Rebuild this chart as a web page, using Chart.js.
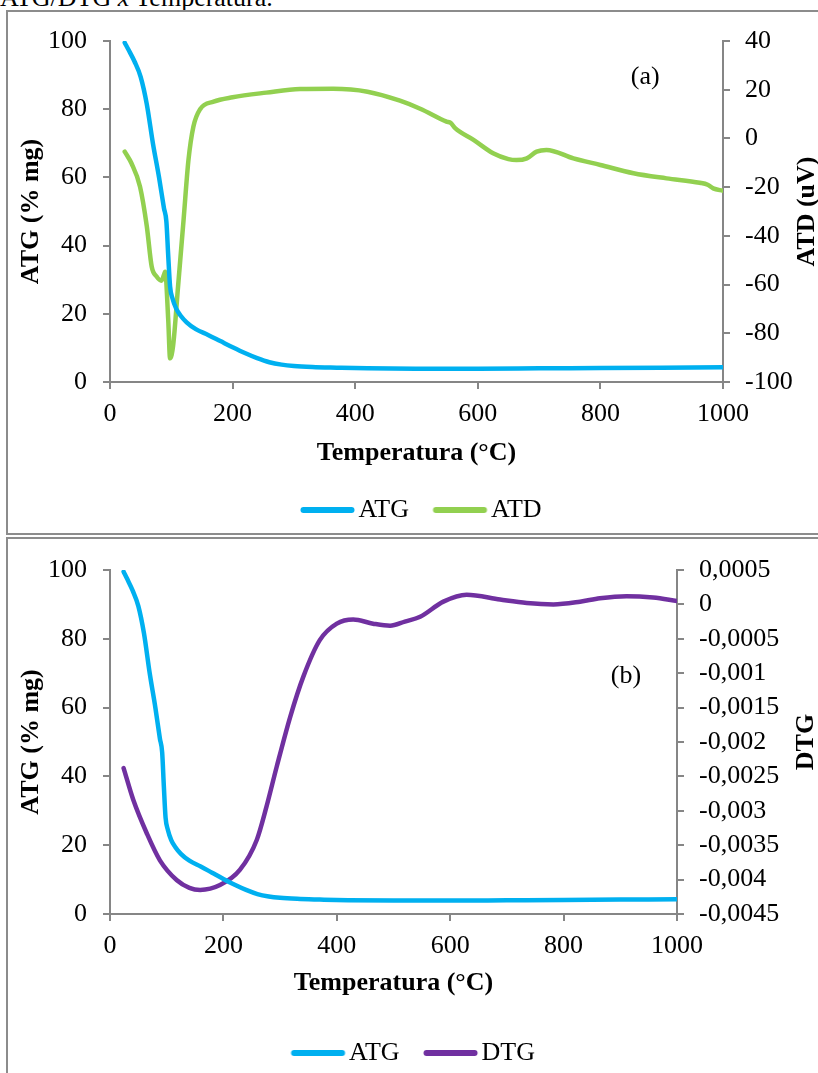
<!DOCTYPE html>
<html>
<head>
<meta charset="utf-8">
<script src="https://cdn.jsdelivr.net/npm/chart.js@4.4.1/dist/chart.umd.min.js"></script>
<style>
  html, body { margin: 0; padding: 0; background: #fff; }
  body { width: 818px; height: 1073px; overflow: hidden; position: relative; }
  .caption {
    position: absolute; left: 0; top: -15px;
    font: 26px/26px "Liberation Serif", "Times New Roman", serif; color: #000; white-space: nowrap;
  }
  .frame { position: absolute; left: 6px; width: 900px; border: 2px solid #8c8c8c; box-sizing: border-box; }
  #frameA { top: 10px; height: 525px; }
  #frameB { top: 537px; height: 600px; }
  canvas { position: absolute; left: 8px; }
  #chartA { top: 12px; }
  #chartB { top: 539px; }
</style>
</head>
<body>
<div class="caption">ATG/DTG <i>x</i> Temperatura.</div>
<div class="frame" id="frameA"></div>
<div class="frame" id="frameB"></div>
<canvas id="chartA" width="826" height="521"></canvas>
<canvas id="chartB" width="810" height="537"></canvas>
<script>
const FONT = '"Liberation Serif", "Times New Roman", serif';
const AXIS_GRAY = "#868686";

// temperature axis ticks
const tempTicks = [0, 200, 400, 600, 800, 1000];

// ATG (% mg), shared by both panels
const atgTemp = [24, 30, 40, 50, 60, 70, 80, 88, 92, 95, 98, 102, 108, 115, 125, 140, 160, 180, 200, 220, 240, 260, 280, 300, 330, 370, 420, 500, 600, 700, 800, 900, 1000];
const atgValues = [99.5, 97.5, 94, 89.5, 81.5, 70, 60, 51, 47, 37, 28, 24.5, 21.5, 19.5, 17.5, 15.5, 13.8, 12, 10.2, 8.5, 7, 5.8, 5.1, 4.7, 4.4, 4.2, 4.0, 3.9, 3.9, 4.0, 4.1, 4.2, 4.3];

// ATD (uV), panel (a)
const atdTemp = [24, 35, 49, 60, 68, 76, 84, 88, 90, 95, 98, 103, 111, 120, 128, 136, 147, 169, 200, 255, 310, 364, 420, 473, 506, 549, 556, 563, 593, 625, 650, 663, 680, 696, 712, 756, 800, 854, 908, 962, 975, 984, 1000];
const atdValues = [-5.4, -10.2, -19.8, -36, -52.6, -56.7, -58.4, -56, -54.7, -74.5, -90.3, -85, -60.9, -33.5, -8.9, 4.8, 12, 15.1, 16.9, 18.8, 20.3, 20.4, 19.2, 15.5, 12.2, 6.9, 6.3, 4.2, -0.6, -6.1, -8.5, -8.9, -8.2, -5.4, -4.7, -8.2, -10.9, -14.3, -16.4, -18.2, -19, -20.5, -21.5];

// DTG, panel (b)
const dtgTemp = [24, 41, 65, 88, 118, 140, 159, 194, 229, 259, 276, 294, 318, 341, 370, 400, 429, 464, 494, 520, 547, 588, 629, 688, 735, 782, 829, 864, 911, 958, 1000];
const dtgValues = [-0.00238, -0.00284, -0.00333, -0.00372, -0.00401, -0.00412, -0.00415, -0.00408, -0.00386, -0.00342, -0.00294, -0.00236, -0.00163, -0.00105, -0.00052, -0.00028, -0.00022, -0.00028, -0.00031, -0.00025, -0.00018, 0.00004, 0.00014, 0.00007, 0.00002, 0, 0.00004, 0.00009, 0.00012, 0.0001, 0.00005];

// axis ranges
const atgRange = { min: 0, max: 100, step: 20 };
const atdRange = { min: -100, max: 40, step: 20 };
const dtgRange = { min: -0.0045, max: 0.0005, step: 0.0005 };

// panel tags, in data units (temperature, ATG)
const tagA = { text: "(a)", at: [873, 89.4] };
const tagB = { text: "(b)", at: [910, 69.2] };

function toPoints(xs, ys) {
  return xs.map((x, i) => ({ x, y: ys[i] }));
}

function formatComma(value) {
  let s = Number(value).toFixed(4).replace(/0+$/, "").replace(/\.$/, "");
  if (s === "-0") s = "0";
  return s.replace(".", ",");
}

// legend swatch: a short thick line that sits close to its label
function legendSwatch(color) {
  const c = document.createElement("canvas");
  c.width = 110;
  c.height = 10;
  const g = c.getContext("2d");
  g.strokeStyle = color;
  g.lineWidth = 6;
  g.lineCap = "round";
  g.beginPath();
  g.moveTo(35.5, 5);
  g.lineTo(83.5, 5);
  g.stroke();
  return c;
}

function lineDataset(label, xs, ys, color, axis) {
  return {
    label,
    data: toPoints(xs, ys),
    yAxisID: axis,
    borderColor: color,
    backgroundColor: color,
    borderWidth: 4.5,
    borderCapStyle: "round",
    borderJoinStyle: "round",
    pointRadius: 0,
    pointStyle: legendSwatch(color),
    cubicInterpolationMode: "monotone",
    fill: false
  };
}

function axisGrid() {
  return { display: true, drawOnChartArea: false, drawTicks: true, tickLength: 7, color: AXIS_GRAY, lineWidth: 2 };
}

// right-hand title (reads bottom to top) and the panel tag
const panelText = {
  id: "panelText",
  afterDraw(chart, args, opts) {
    const { ctx, chartArea, scales } = chart;
    ctx.save();
    ctx.fillStyle = "#000";
    ctx.textAlign = "center";
    ctx.textBaseline = "middle";
    ctx.font = `bold 26px ${FONT}`;
    ctx.translate(scales.y1.left + opts.titleOffset, (chartArea.top + chartArea.bottom) / 2);
    ctx.rotate(-Math.PI / 2);
    ctx.fillText(opts.title, 0, 0);
    ctx.restore();

    ctx.save();
    ctx.fillStyle = "#000";
    ctx.textAlign = "center";
    ctx.textBaseline = "middle";
    ctx.font = `26px ${FONT}`;
    ctx.fillText(opts.tag.text, scales.x.getPixelForValue(opts.tag.at[0]), scales.y.getPixelForValue(opts.tag.at[1]));
    ctx.restore();
  }
};

function buildChart(canvas, cfg) {
  return new Chart(canvas, {
    type: "line",
    data: {
      datasets: [
        lineDataset("ATG", atgTemp, atgValues, "#00B0F0", "y"),
        lineDataset(cfg.name, cfg.temps, cfg.values, cfg.color, "y1")
      ]
    },
    options: {
      responsive: false,
      animation: false,
      events: [],
      layout: { padding: { top: cfg.padTop, left: 0, right: 0, bottom: 0 } },
      plugins: {
        tooltip: { enabled: false },
        legend: {
          position: "bottom",
          labels: {
            usePointStyle: true,
            pointStyleWidth: 45,
            padding: 24,
            color: "#000",
            font: { family: FONT, size: 26 }
          }
        },
        panelText: { title: cfg.rightTitle, titleOffset: cfg.titleOffset, tag: cfg.tag }
      },
      scales: {
        x: {
          type: "linear",
          min: 0,
          max: 1000,
          afterBuildTicks: s => { s.ticks = tempTicks.map(v => ({ value: v })); },
          afterFit: s => { s.height = cfg.xHeight; },
          grid: axisGrid(),
          border: { display: true, color: AXIS_GRAY, width: 2 },
          ticks: {
            autoSkip: false,
            maxRotation: 0,
            padding: 12,
            color: "#000",
            font: { family: FONT, size: 26, lineHeight: 1 },
            callback: v => String(v)
          },
          title: {
            display: true,
            text: "Temperatura (°C)",
            color: "#000",
            font: { family: FONT, size: 26, weight: "bold", lineHeight: 1 },
            padding: { top: 0, bottom: cfg.xTitlePad }
          }
        },
        y: {
          position: "left",
          min: atgRange.min,
          max: atgRange.max,
          afterFit: s => { s.width = 102; },
          grid: axisGrid(),
          border: { display: true, color: AXIS_GRAY, width: 2 },
          ticks: { stepSize: atgRange.step, autoSkip: false, padding: 16, color: "#000", font: { family: FONT, size: 26, lineHeight: 1 } },
          title: {
            display: true,
            text: "ATG (% mg)",
            color: "#000",
            font: { family: FONT, size: 26, weight: "bold", lineHeight: 1 },
            padding: { top: 10, bottom: 0 }
          }
        },
        y1: {
          position: "right",
          min: cfg.range.min,
          max: cfg.range.max,
          afterFit: s => { s.width = cfg.rightWidth; },
          grid: axisGrid(),
          border: { display: true, color: AXIS_GRAY, width: 2 },
          ticks: {
            stepSize: cfg.range.step,
            autoSkip: false,
            padding: 15,
            color: "#000",
            font: { family: FONT, size: 26, lineHeight: 1 },
            callback: cfg.format
          }
        }
      }
    },
    plugins: [panelText]
  });
}

buildChart(document.getElementById("chartA"), {
  name: "ATD",
  temps: atdTemp,
  values: atdValues,
  color: "#92D050",
  range: atdRange,
  format: v => String(v),
  rightTitle: "ATD (uV)",
  titleOffset: 84,
  rightWidth: 111,
  padTop: 29,
  xHeight: 91,
  xTitlePad: 7,
  tag: tagA
});

buildChart(document.getElementById("chartB"), {
  name: "DTG",
  temps: dtgTemp,
  values: dtgValues,
  color: "#7030A0",
  range: dtgRange,
  format: formatComma,
  rightTitle: "DTG",
  titleOffset: 129,
  rightWidth: 141,
  padTop: 31,
  xHeight: 102,
  xTitlePad: 20,
  tag: tagB
});
</script>
</body>
</html>
